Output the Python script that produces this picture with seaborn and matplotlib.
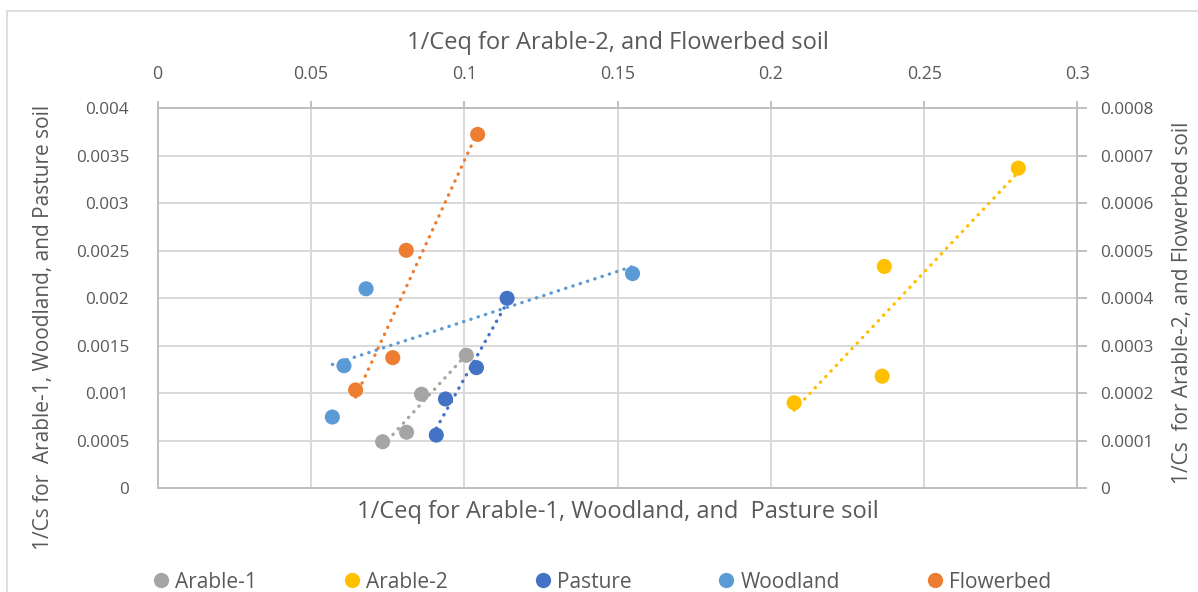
import matplotlib
matplotlib.use('Agg')
import matplotlib.pyplot as plt
from matplotlib.lines import Line2D
from matplotlib.patches import Rectangle
import seaborn as sns

# values
arable1_x = [0.0734, 0.0812, 0.0861, 0.1007]
arable1_y = [0.00049, 0.00059, 0.00099, 0.00140]
pasture_x = [0.0909, 0.0939, 0.1040, 0.1140]
pasture_y = [0.00056, 0.00094, 0.00127, 0.00200]
woodland_x = [0.0570, 0.0608, 0.0680, 0.1549]
woodland_y = [0.00075, 0.00129, 0.00210, 0.00226]
# secondary (right) axis series
arable2_x = [0.2076, 0.2363, 0.2370, 0.2807]
arable2_y = [0.000180, 0.000236, 0.000467, 0.000674]
flowerbed_x = [0.0646, 0.0767, 0.0811, 0.1044]
flowerbed_y = [0.000207, 0.000275, 0.000501, 0.000745]

x_ticks = [0, 0.05, 0.1, 0.15, 0.2, 0.25, 0.3]
x_ticklabels = ['0', '0.05', '0.1', '0.15', '0.2', '0.25', '0.3']
left_ticks = [0, 0.0005, 0.001, 0.0015, 0.002, 0.0025, 0.003, 0.0035, 0.004]
left_ticklabels = ['0', '0.0005', '0.001', '0.0015', '0.002', '0.0025', '0.003', '0.0035', '0.004']
right_ticks = [0, 0.0001, 0.0002, 0.0003, 0.0004, 0.0005, 0.0006, 0.0007, 0.0008]
right_ticklabels = ['0', '0.0001', '0.0002', '0.0003', '0.0004', '0.0005', '0.0006', '0.0007', '0.0008']

colors = {'Arable-1': '#A5A5A5', 'Arable-2': '#FFC000', 'Pasture': '#4472C4',
          'Woodland': '#5B9BD5', 'Flowerbed': '#ED7D31'}

sns.set_theme(style='white')
plt.rcParams['font.family'] = ['Open Sans', 'DejaVu Sans']
txt = '#595959'
grid_c = '#d9d9d9'
axis_c = '#bfbfbf'

fig, ax = plt.subplots(figsize=(11.98, 5.92), dpi=100)
fig.subplots_adjust(left=0.1315, right=0.8994, top=0.8171, bottom=0.1752)
ax2 = ax.twinx()

dotted = dict(linestyle=(0, (0.1, 2.2)), dash_capstyle='round', lw=2.4)

def draw(a, x, y, name):
    sns.regplot(x=x, y=y, ax=a, scatter=False, ci=None, truncate=True,
                color=colors[name], line_kws=dotted)
    sns.scatterplot(x=x, y=y, ax=a, s=118, color=colors[name], edgecolor='none',
                    linewidth=0, zorder=3)

draw(ax, arable1_x, arable1_y, 'Arable-1')
draw(ax, pasture_x, pasture_y, 'Pasture')
draw(ax, woodland_x, woodland_y, 'Woodland')
draw(ax2, arable2_x, arable2_y, 'Arable-2')
draw(ax2, flowerbed_x, flowerbed_y, 'Flowerbed')

ax.set_xlim(0, 0.3)
ax.set_ylim(0, 0.004)
ax2.set_ylim(0, 0.0008)
ax.set_yticks(left_ticks)
ax.set_yticklabels(left_ticklabels)
ax2.set_yticks(right_ticks)
ax2.set_yticklabels(right_ticklabels)
ax.set_xticks(x_ticks)
ax.set_xticklabels(x_ticklabels)

ax.grid(True, color=grid_c, lw=1.4)
ax.set_axisbelow(True)
ax2.grid(False)

for a in (ax, ax2):
    for sp in a.spines.values():
        sp.set_color(axis_c)
        sp.set_linewidth(1.4)

ax.tick_params(axis='y', left=False, labelsize=12.3, labelcolor=txt, pad=14.5)
ax.tick_params(axis='x', bottom=False, labelbottom=False, top=True, labeltop=True,
               direction='out', length=5, color=axis_c, width=1.4,
               labelsize=12.8, labelcolor=txt, pad=13)
ax2.tick_params(axis='y', right=True, direction='out', length=7, color=axis_c,
                width=1.4, labelsize=12.3, labelcolor=txt, pad=9)

ax.set_xlabel('1/Ceq for Arable-1, Woodland, and  Pasture soil', fontsize=17, color=txt, va='center')
ax.xaxis.set_label_coords(0.5, -0.062)
ax.set_ylabel('1/Cs for  Arable-1, Woodland, and Pasture soil', fontsize=15, color=txt,
              va='center', ha='center')
ax.yaxis.set_label_coords(-0.1245, 0.423)
ax2.set_ylabel('1/Cs  for Arable-2, and Flowerbed soil', fontsize=15, color=txt,
               va='center', ha='center', rotation=90)
ax2.yaxis.set_label_coords(1.1147, 0.489)
ax.text(0.5, 1.173, '1/Ceq for Arable-2, and Flowerbed soil', transform=ax.transAxes,
        ha='center', va='center', fontsize=17, color=txt)

names = ['Arable-1', 'Arable-2', 'Pasture', 'Woodland', 'Flowerbed']
handles = [Line2D([], [], marker='o', linestyle='none', markersize=11,
                  markerfacecolor=colors[n], markeredgecolor='none') for n in names]
leg = fig.legend(handles, names, loc='center', bbox_to_anchor=(0.502, 1 - 582 / 592),
                 ncol=5, frameon=False, handletextpad=0.23, handlelength=0.9,
                 columnspacing=4.1, fontsize=15)
for t in leg.get_texts():
    t.set_color(txt)

fig.patches.append(Rectangle((7 / 1198, -0.1), 1.2, (592 - 11) / 592 + 0.1,
                             transform=fig.transFigure, fill=False, ec=grid_c, lw=1.2))

fig.savefig('out.png', dpi=100)
